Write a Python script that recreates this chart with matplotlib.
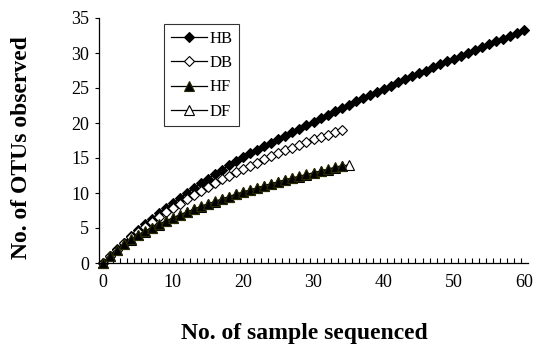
import matplotlib
matplotlib.use("Agg")
import matplotlib.pyplot as plt
import numpy as np

plt.rcParams['font.family'] = ['Liberation Serif', 'DejaVu Serif']

hb = [0, 1.0, 1.95, 2.9, 3.8, 4.7, 5.55, 6.35, 7.1, 7.85, 8.6, 9.3, 10.0, 10.7, 11.4,
      12.05, 12.7, 13.35, 14.0, 14.55, 15.1, 15.65, 16.2, 16.7, 17.2, 17.7, 18.2, 18.7,
      19.2, 19.7, 20.2, 20.7, 21.2, 21.65, 22.1, 22.6, 23.1, 23.55, 24.0, 24.45, 24.9,
      25.35, 25.8, 26.25, 26.7, 27.1, 27.5, 27.95, 28.4, 28.8, 29.2, 29.6, 30.0, 30.4,
      30.85, 31.25, 31.65, 32.05, 32.5, 32.9, 33.3]
db = [0, 0.95, 1.9, 2.8, 3.65, 4.45, 5.2, 5.9, 6.6, 7.25, 7.9, 8.5, 9.1, 9.7, 10.3,
      10.85, 11.4, 11.95, 12.45, 12.95, 13.45, 13.9, 14.35, 14.8, 15.25, 15.7, 16.1,
      16.5, 16.9, 17.3, 17.65, 18.0, 18.35, 18.7, 19.0]
hf = [0, 1.0, 1.9, 2.7, 3.4, 4.0, 4.55, 5.05, 5.55, 6.0, 6.45, 6.9, 7.3, 7.7, 8.1,
      8.45, 8.8, 9.15, 9.5, 9.85, 10.15, 10.45, 10.75, 11.05, 11.35, 11.6, 11.9, 12.15,
      12.4, 12.65, 12.9, 13.15, 13.4, 13.65, 13.9]
df = [0, 0.95, 1.85, 2.65, 3.35, 3.95, 4.5, 5.0, 5.5, 5.95, 6.4, 6.85, 7.25, 7.65,
      8.05, 8.4, 8.75, 9.1, 9.45, 9.8, 10.1, 10.4, 10.7, 11.0, 11.3, 11.55, 11.85,
      12.1, 12.35, 12.6, 12.85, 13.1, 13.35, 13.6, 13.8, 14.05]
labels = ["HB", "DB", "HF", "DF"]

fig = plt.figure(figsize=(5.34, 3.45), dpi=100)
ax = fig.add_axes([99/534, 1-263/345, 429/534, 245/345])

series = [hb, db, hf, df]
styles = [
    dict(marker='D', mfc='black', mec='black', ms=5.5, mew=0.8),
    dict(marker='D', mfc='white', mec='black', ms=5.5, mew=0.8),
    dict(marker='^', mfc='black', mec='#2a2a00', ms=6.5, mew=0.8),
    dict(marker='^', mfc='white', mec='black', ms=6.5, mew=0.8),
]
order = [0, 1, 3, 2]
handles = [None]*4
for i in order:
    s = series[i]
    h, = ax.plot(np.arange(len(s)), s, color='black', lw=0.9, label=labels[i],
                 clip_on=False, **styles[i])
    handles[i] = h

ax.set_xlim(-0.5, 60.5)
ax.set_ylim(0, 35)
ax.set_xticks(np.arange(0, 61, 10))
ax.set_xticks(np.arange(0.5, 60.5, 1), minor=True)
ax.set_yticks(np.arange(0, 36, 5))
ax.tick_params(axis='x', which='major', length=0, labelsize=13, pad=8)
ax.tick_params(axis='x', which='minor', direction='in', length=3.5, width=0.8)
ax.tick_params(axis='y', which='major', direction='out', length=3, width=0.8, labelsize=13, pad=4)
ax.spines['top'].set_visible(False)
ax.spines['right'].set_visible(False)
ax.spines['left'].set_linewidth(0.9)
ax.spines['bottom'].set_linewidth(0.9)

ax.set_xlabel("No. of sample sequenced", fontsize=17, fontweight='bold')
ax.xaxis.set_label_coords(0.478, -0.286)
ax.xaxis.label.set_va('center')
ax.set_ylabel("No. of OTUs observed", fontsize=17, fontweight='bold')
ax.yaxis.set_label_coords(-0.181, 0.473)
ax.yaxis.label.set_va('center')

leg = fig.legend(handles=handles, labels=labels, loc='upper left',
                 bbox_to_anchor=(164/534, 1-24/345), borderaxespad=0,
                 fancybox=False, frameon=True, edgecolor='black', fontsize=12,
                 handlelength=2.2, handletextpad=0.15, labelspacing=0.5,
                 borderpad=0.4)
leg.get_frame().set_linewidth(0.8)

fig.savefig("out.png", dpi=100)
